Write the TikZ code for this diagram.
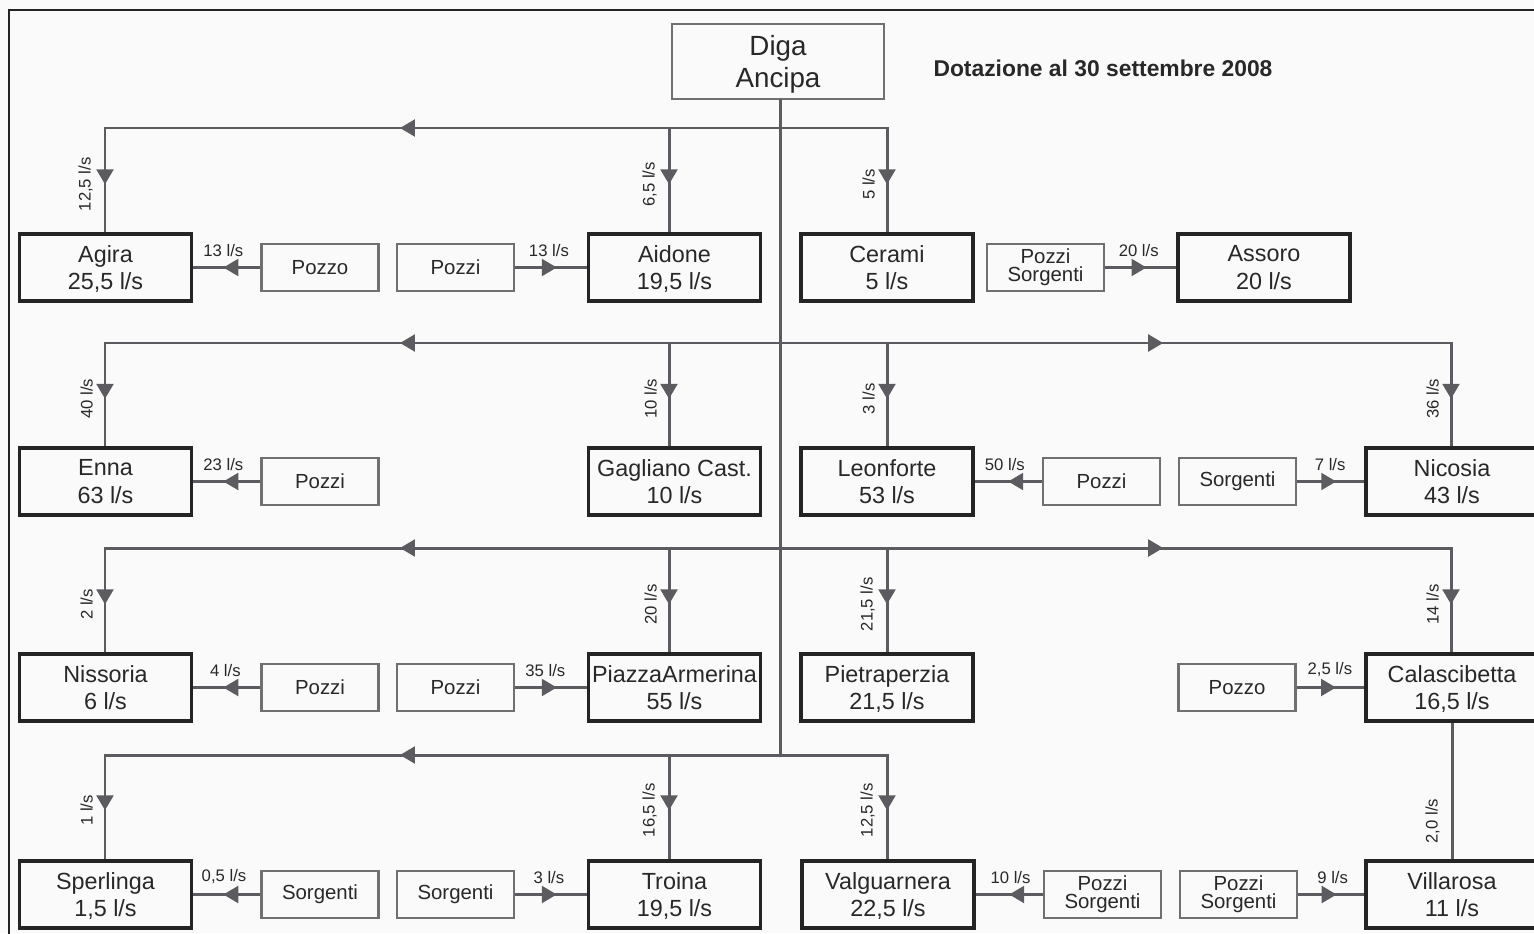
\documentclass[tikz,border=0pt]{standalone}
\usepackage{fontspec}
\setmainfont{Liberation Sans}
\usetikzlibrary{arrows.meta,decorations.markings}
\definecolor{PipeClr}{RGB}{92,92,96}
\definecolor{CityClr}{RGB}{36,36,36}
\definecolor{SrcClr}{RGB}{112,112,112}
\definecolor{TextClr}{RGB}{40,40,40}
\definecolor{BackClr}{RGB}{250,250,250}

\begin{document}
\begin{tikzpicture}[x=0.02cm,y=-0.02cm,
  tri/.tip={Triangle[length=8.5pt,width=9.5pt]},
  pipe/.style={draw=PipeClr,line width=1.7pt},
  trunk/.style={pipe,line cap=rect},
  arr/.style={postaction={decorate},decoration={markings,mark=at position #1 with {\arrow{tri}}}},
  feed/.style={pipe,arr=#1},
  city/.style={draw=CityClr,line width=1.9pt,fill=BackClr,text=TextClr,align=center,text depth=0pt,
    minimum width=3.44cm,minimum height=1.34cm,inner sep=0pt,font=\fontsize{13.3}{15.5}\selectfont},
  src/.style={draw=SrcClr,line width=1.5pt,fill=BackClr,text=TextClr,align=center,
    minimum width=2.34cm,minimum height=0.94cm,inner sep=0pt,font=\fontsize{11.6}{10.2}\selectfont},
  hlab/.style={font=\fontsize{9.5}{10}\selectfont,text=TextClr,anchor=south,inner sep=0pt,outer sep=6pt},
  vlab/.style={hlab,outer sep=7pt,rotate=90}]

\useasboundingbox (0,0) rectangle (1534,933);
\clip (0,0) rectangle (1534,933);
\fill[BackClr] (0,0) rectangle (1534,933);
\draw[line width=1.2pt,CityClr] (9,10) rectangle (1600,1000);

\node[src,minimum width=4.24cm,minimum height=1.5cm,text depth=0pt,font=\fontsize{15.8}{18.5}\selectfont] (diga) at (778,61.5) {Diga\\Ancipa};
\node[font=\fontsize{13}{15}\selectfont\bfseries,text=TextClr] (title) at (1103,68) {Dotazione al 30 settembre 2008};

% first row
\node[city] (agira) at (105.5,267.5) {Agira\\25,5 l/s};
\node[src] (pozzoA) at (320,267.5) {Pozzo};
\node[src] (pozziA) at (455.5,267.5) {Pozzi};
\node[city] (aidone) at (674.5,267.5) {Aidone\\19,5 l/s};
\node[city] (cerami) at (887,267.5) {Cerami\\5 l/s};
\node[src] (pzsgA) at (1045.5,267.5) {Pozzi\\Sorgenti};
\node[city] (assoro) at (1264,267.5) {Assoro\\20 l/s};

% second row
\node[city] (enna) at (105.5,481.5) {Enna\\63 l/s};
\node[src] (pozziB) at (320,481.5) {Pozzi};
\node[city] (gagliano) at (674.5,481.5) {Gagliano Cast.\\10 l/s};
\node[city] (leonforte) at (887,481.5) {Leonforte\\53 l/s};
\node[src] (pozziC) at (1101.5,481.5) {Pozzi};
\node[src] (sorgA) at (1237.5,481.5) {Sorgenti};
\node[city] (nicosia) at (1452,481.5) {Nicosia\\43 l/s};

% third row
\node[city] (nissoria) at (105.5,687.5) {Nissoria\\6 l/s};
\node[src] (pozziD) at (320,687.5) {Pozzi};
\node[src] (pozziE) at (455.5,687.5) {Pozzi};
\node[city] (piazza) at (674.5,687.5) {PiazzaArmerina\\55 l/s};
\node[city] (pietra) at (887,687.5) {Pietraperzia\\21,5 l/s};
\node[src] (pozzoB) at (1237,687.5) {Pozzo};
\node[city] (calasc) at (1452,687.5) {Calascibetta\\16,5 l/s};

% fourth row
\node[city] (sperlinga) at (105.5,894.5) {Sperlinga\\1,5 l/s};
\node[src] (sorgB) at (320,894.5) {Sorgenti};
\node[src] (sorgC) at (455.5,894.5) {Sorgenti};
\node[city] (troina) at (674.5,894.5) {Troina\\19,5 l/s};
\node[city] (valg) at (888,894.5) {Valguarnera\\22,5 l/s};
\node[src] (pzsgB) at (1102.5,894.5) {Pozzi\\Sorgenti};
\node[src] (pzsgC) at (1238.5,894.5) {Pozzi\\Sorgenti};
\node[city] (villa) at (1452,894.5) {Villarosa\\11 l/s};

% junctions
\coordinate (t1) at (780,128);
\coordinate (t2) at (780,343);
\coordinate (t3) at (780,548);
\coordinate (t4) at (780,755);
\coordinate (j1a) at (105,128); \coordinate (j1b) at (669,128); \coordinate (j1c) at (887,128);
\coordinate (j2a) at (105,343); \coordinate (j2b) at (669,343); \coordinate (j2c) at (887,343); \coordinate (j2d) at (1451,343);
\coordinate (j3a) at (105,548); \coordinate (j3b) at (669,548); \coordinate (j3c) at (887,548); \coordinate (j3d) at (1451,548);
\coordinate (j4a) at (105,755); \coordinate (j4b) at (669,755); \coordinate (j4c) at (887,755);

\draw[trunk] (t1 |- diga.south) -- (t4);

% first row pipes
\draw[trunk,arr=.563] (t1) -- (j1a);
\draw[trunk] (t1) -- (j1c);
\draw[feed=.54] (j1a) -- node[vlab,pos=.54] (q1a) {12,5 l/s} (j1a |- agira.north);
\draw[feed=.54] (j1b) -- node[vlab,pos=.54] (q1b) {6,5 l/s} (j1b |- aidone.north);
\draw[feed=.54] (j1c) -- node[vlab,pos=.54] (q1c) {5 l/s} (j1c |- cerami.north);
\draw[feed=.55] (pozzoA) -- node[hlab,pos=.55] (q1d) {13 l/s} (agira);
\draw[feed=.58] (pozziA) -- node[hlab,pos=.47] (q1e) {13 l/s} (aidone);
\draw[feed=.58] (pzsgA) -- node[hlab,pos=.47] (q1f) {20 l/s} (assoro);

% second row pipes
\draw[trunk,arr=.563] (t2) -- (j2a);
\draw[trunk,arr=.571] (t2) -- (j2d);
\draw[feed=.54] (j2a) -- node[vlab,pos=.54] (q2a) {40 l/s} (j2a |- enna.north);
\draw[feed=.54] (j2b) -- node[vlab,pos=.54] (q2b) {10 l/s} (j2b |- gagliano.north);
\draw[feed=.54] (j2c) -- node[vlab,pos=.54] (q2c) {3 l/s} (j2c |- leonforte.north);
\draw[feed=.54] (j2d) -- node[vlab,pos=.54] (q2d) {36 l/s} (j2d |- nicosia.north);
\draw[feed=.55] (pozziB) -- node[hlab,pos=.55] (q2e) {23 l/s} (enna);
\draw[feed=.5] (pozziC) -- node[hlab,pos=.55] (q2f) {50 l/s} (leonforte);
\draw[feed=.58] (sorgA) -- node[hlab,pos=.49] (q2g) {7 l/s} (nicosia);

% third row pipes
\draw[trunk,arr=.563] (t3) -- (j3a);
\draw[trunk,arr=.571] (t3) -- (j3d);
\draw[feed=.54] (j3a) -- node[vlab,pos=.54] (q3a) {2 l/s} (j3a |- nissoria.north);
\draw[feed=.54] (j3b) -- node[vlab,pos=.54] (q3b) {20 l/s} (j3b |- piazza.north);
\draw[feed=.54] (j3c) -- node[vlab,pos=.54] (q3c) {21,5 l/s} (j3c |- pietra.north);
\draw[feed=.54] (j3d) -- node[vlab,pos=.54] (q3d) {14 l/s} (j3d |- calasc.north);
\draw[feed=.55] (pozziD) -- node[hlab,pos=.52] (q3e) {4 l/s} (nissoria);
\draw[feed=.58] (pozziE) -- node[hlab,pos=.42] (q3f) {35 l/s} (piazza);
\draw[feed=.58] (pozzoB) -- node[hlab,pos=.49] (q3g) {2,5 l/s} (calasc);

% fourth row pipes
\draw[trunk,arr=.563] (t4) -- (j4a);
\draw[trunk] (t4) -- (j4c);
\draw[feed=.53] (j4a) -- node[vlab,pos=.53] (q4a) {1 l/s} (j4a |- sperlinga.north);
\draw[feed=.53] (j4b) -- node[vlab,pos=.53] (q4b) {16,5 l/s} (j4b |- troina.north);
\draw[feed=.53] (j4c) -- node[vlab,pos=.53] (q4c) {12,5 l/s} (j4c |- valg.north);
\draw[feed=.55] (sorgB) -- node[hlab,pos=.54] (q4d) {0,5 l/s} (sperlinga);
\draw[feed=.58] (sorgC) -- node[hlab,pos=.47] (q4e) {3 l/s} (troina);
\draw[feed=.5] (pzsgB) -- node[hlab,pos=.48] (q4f) {10 l/s} (valg);
\draw[feed=.58] (pzsgC) -- node[hlab,pos=.52] (q4g) {9 l/s} (villa);
\draw[pipe] (calasc) -- node[vlab,pos=.72] (q4h) {2,0 l/s} (villa);

\end{tikzpicture}
\end{document}
